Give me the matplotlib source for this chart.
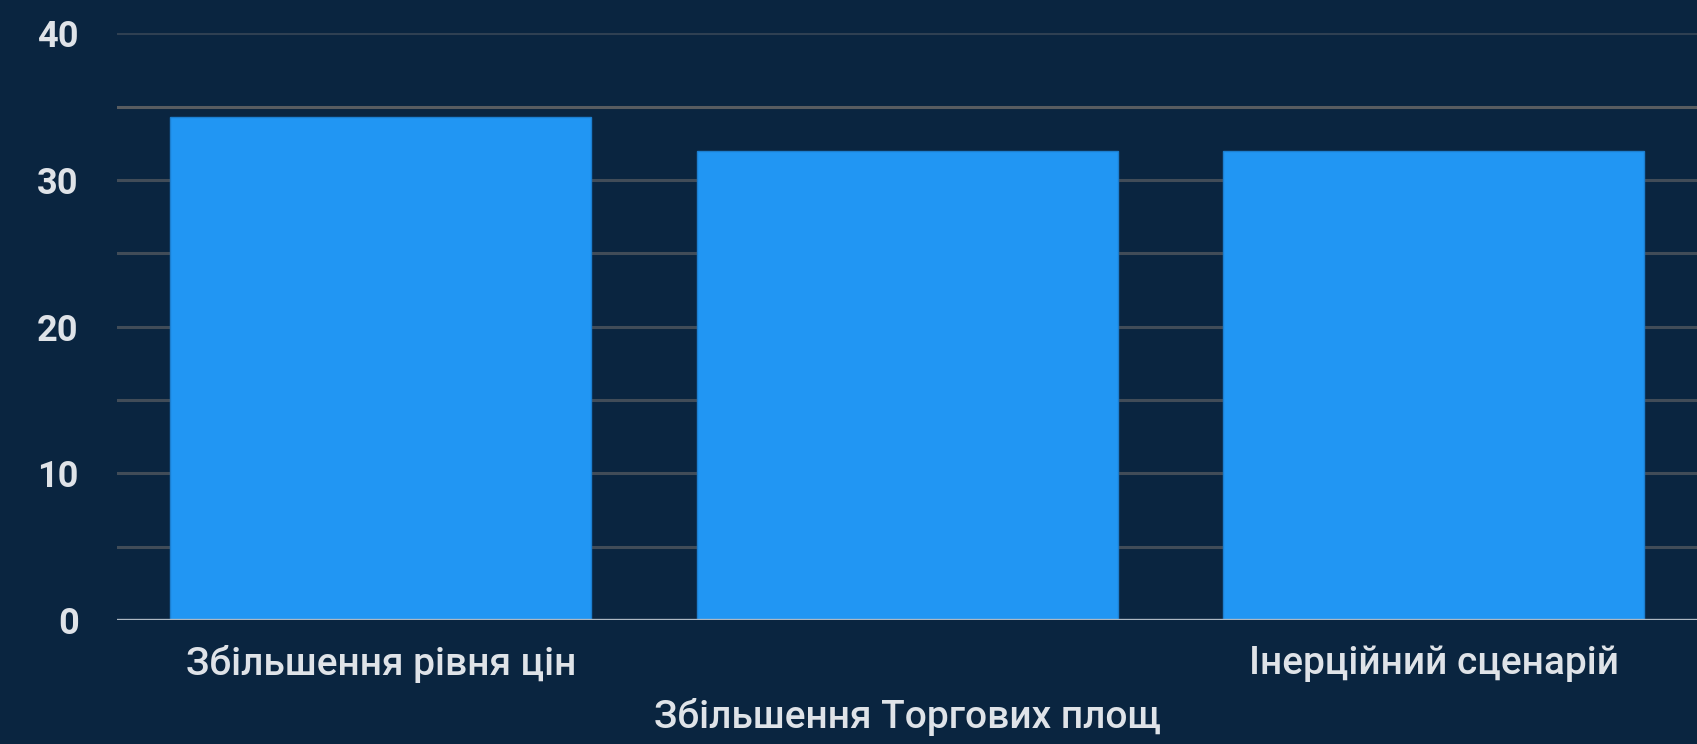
import matplotlib
matplotlib.use("Agg")
import matplotlib.pyplot as plt
import numpy as np

categories = ["Збільшення рівня цін", "Збільшення Торгових площ", "Інерційний сценарій"]
values = [34.3, 32.0, 32.0]
y_ticks = [0, 10, 20, 30, 40]
grid_levels = [5, 10, 15, 20, 25, 30, 35, 40]

BG = "#0a2540"
BAR = "#2196F3"
TXT = "#dfe3e8"

plt.rcParams['font.family'] = ['Roboto', 'DejaVu Sans']

fig = plt.figure(figsize=(16.97, 7.44), dpi=100, facecolor=BG)
ax = fig.add_axes([0.0692, 0.1667, 0.9308, 0.7885])
ax.set_facecolor(BG)

for g in grid_levels:
    col = "#585c60" if g == 35 else ("#2f4052" if g == 40 else "#414c58")
    ax.axhline(g, color=col, lw=2.2, zorder=0)

x = np.arange(len(categories))
ax.bar(x, values, width=0.8, color=BAR, edgecolor="#1c7fd0", linewidth=1.0, zorder=2)
ax.axhline(0, color="#aeb8c2", lw=2.4, zorder=3)

ax.set_xlim(-0.5, 2.5)
ax.set_ylim(0, 40)
ax.set_yticks(y_ticks)
ax.set_yticklabels([str(v) for v in y_ticks], fontsize=26, fontweight='bold', color=TXT)
ax.tick_params(axis='y', length=0, pad=28)
ax.set_xticks(x)
ax.set_xticklabels(categories, fontsize=28, fontweight='medium', color=TXT)
ax.tick_params(axis='x', length=0, pad=18)
ax.xaxis.get_major_ticks()[1].set_pad(56)

for s in ax.spines.values():
    s.set_visible(False)

fig.savefig("out.png", dpi=100, facecolor=BG)
